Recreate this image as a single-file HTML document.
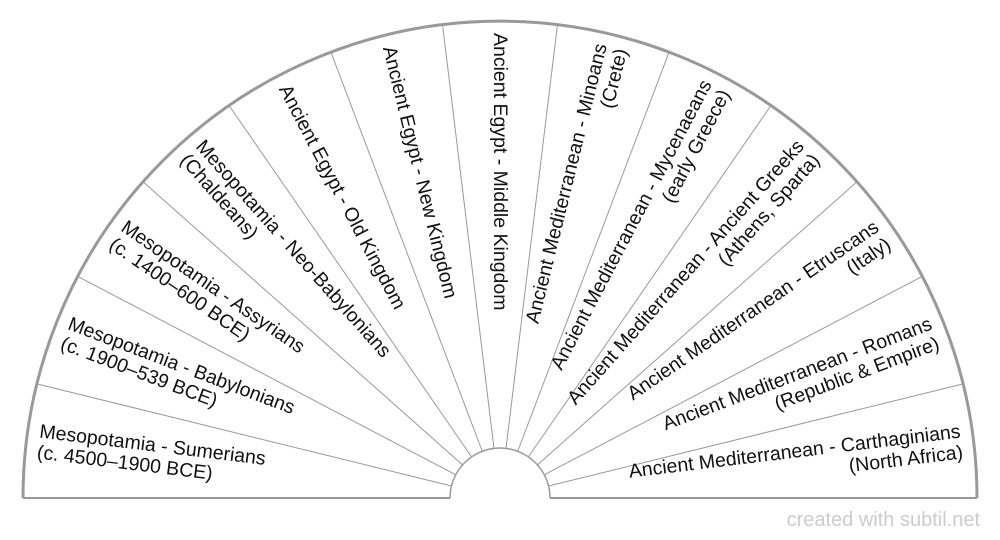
<!DOCTYPE html>
<html><head><meta charset="utf-8"><style>
html,body{margin:0;padding:0;background:#fff;}
svg{display:block;}
text{font-family:"Liberation Sans",Arial,sans-serif;font-size:19.5px;fill:#111;}
</style></head><body>
<svg width="1000" height="540" viewBox="0 0 1000 540" xmlns="http://www.w3.org/2000/svg">
<g transform="translate(500,498)">
<g stroke="#999" stroke-width="1">
<line x1="50" y1="0" x2="476" y2="0" transform="rotate(-13.846)"/>
<line x1="50" y1="0" x2="476" y2="0" transform="rotate(-27.692)"/>
<line x1="50" y1="0" x2="476" y2="0" transform="rotate(-41.538)"/>
<line x1="50" y1="0" x2="476" y2="0" transform="rotate(-55.385)"/>
<line x1="50" y1="0" x2="476" y2="0" transform="rotate(-69.231)"/>
<line x1="50" y1="0" x2="476" y2="0" transform="rotate(-83.077)"/>
<line x1="50" y1="0" x2="476" y2="0" transform="rotate(-96.923)"/>
<line x1="50" y1="0" x2="476" y2="0" transform="rotate(-110.769)"/>
<line x1="50" y1="0" x2="476" y2="0" transform="rotate(-124.615)"/>
<line x1="50" y1="0" x2="476" y2="0" transform="rotate(-138.462)"/>
<line x1="50" y1="0" x2="476" y2="0" transform="rotate(-152.308)"/>
<line x1="50" y1="0" x2="476" y2="0" transform="rotate(-166.154)"/>
</g>
<path d="M -50 0 A 50 50 0 0 1 50 0" fill="none" stroke="#999" stroke-width="1.5"/>
<line x1="-477" y1="0" x2="-50" y2="0" stroke="#999" stroke-width="2"/>
<line x1="50" y1="0" x2="477" y2="0" stroke="#999" stroke-width="2"/>
<path d="M -477 0 A 477 477 0 0 1 477 0" fill="none" stroke="#999" stroke-width="3"/>

<g dominant-baseline="central">
<g transform="rotate(6.923)"><text x="-465" y="-10.5">Mesopotamia - Sumerians</text><text x="-465" y="10.5">(c. 4500–1900 BCE)</text></g>
<g transform="rotate(20.769)"><text x="-465" y="-10.5">Mesopotamia - Babylonians</text><text x="-465" y="10.5">(c. 1900–539 BCE)</text></g>
<g transform="rotate(34.615)"><text x="-465" y="-10.5">Mesopotamia - Assyrians</text><text x="-465" y="10.5">(c. 1400–600 BCE)</text></g>
<g transform="rotate(48.462)"><text x="-465" y="-10.5">Mesopotamia - Neo-Babylonians</text><text x="-465" y="10.5">(Chaldeans)</text></g>
<g transform="rotate(62.308)"><text x="-465" y="0">Ancient Egypt - Old Kingdom</text></g>
<g transform="rotate(76.154)"><text x="-465" y="0">Ancient Egypt - New Kingdom</text></g>
<g transform="rotate(90)"><text x="-465" y="0">Ancient Egypt - Middle Kingdom</text></g>
<g text-anchor="end">
<g transform="rotate(-76.154)"><text x="465" y="-10.5">Ancient Mediterranean - Minoans</text><text x="465" y="10.5">(Crete)</text></g>
<g transform="rotate(-62.308)"><text x="465" y="-10.5">Ancient Mediterranean - Mycenaeans</text><text x="465" y="10.5">(early Greece)</text></g>
<g transform="rotate(-48.462)"><text x="465" y="-10.5">Ancient Mediterranean - Ancient Greeks</text><text x="465" y="10.5">(Athens, Sparta)</text></g>
<g transform="rotate(-34.615)"><text x="465" y="-10.5">Ancient Mediterranean - Etruscans</text><text x="465" y="10.5">(Italy)</text></g>
<g transform="rotate(-20.769)"><text x="465" y="-10.5">Ancient Mediterranean - Romans</text><text x="465" y="10.5">(Republic &amp; Empire)</text></g>
<g transform="rotate(-6.923)"><text x="465" y="-10.5">Ancient Mediterranean - Carthaginians</text><text x="465" y="10.5">(North Africa)</text></g>
</g>
</g>
</g>
<text x="980" y="526" text-anchor="end" style="font-size:20px;fill:#ccc;">created with subtil.net</text>
</svg>
</body></html>
